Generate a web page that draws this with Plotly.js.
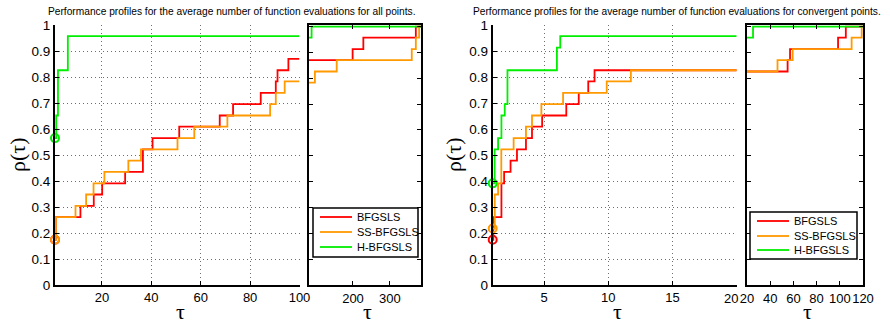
<!DOCTYPE html>
<html>
<head>
<meta charset="utf-8">
<script src="https://cdn.plot.ly/plotly-3.0.1.min.js"></script>
<style>
  html, body { margin: 0; padding: 0; background: #fff; }
  #chart { width: 890px; height: 325px; }
</style>
</head>
<body>
<div id="chart"></div>
<script>
// Solver names and colours
const solverNames = ['BFGSLS', 'SS-BFGSLS', 'H-BFGSLS'];
const solverColors = ['#ff0000', '#ff9a00', '#00ee00'];

// ---- All points: main range tau in [1, 100] ----
const allTauBfgs   = [1, 1.3, 11.3, 16.7, 20.1, 29.4, 36.6, 40.5, 51.3, 67.7, 73.1, 84.3, 90.4, 91.1, 95.5, 100];
const allRhoBfgs   = [0.174, 0.261, 0.304, 0.348, 0.391, 0.435, 0.522, 0.565, 0.609, 0.652, 0.696, 0.739, 0.783, 0.826, 0.870, 0.870];
const allTauSs     = [1, 1.3, 9.3, 13.6, 16.6, 21.0, 30.7, 35.8, 50.6, 57.4, 70.8, 88.1, 90.4, 94.0, 100];
const allRhoSs     = [0.174, 0.261, 0.304, 0.348, 0.391, 0.435, 0.478, 0.522, 0.565, 0.609, 0.652, 0.696, 0.739, 0.783, 0.783];
const allTauH      = [1, 1.5, 2.2, 6.2, 100];
const allRhoH      = [0.565, 0.652, 0.826, 0.957, 0.957];

// ---- All points: tail range ----
const allTailTauBfgs = [81, 199, 228, 370, 384];
const allTailRhoBfgs = [0.870, 0.913, 0.957, 1, 1];
const allTailTauSs   = [81, 97, 156, 359, 370, 379, 384];
const allTailRhoSs   = [0.783, 0.826, 0.870, 0.913, 0.957, 1, 1];
const allTailTauH    = [81, 88, 384];
const allTailRhoH    = [0.957, 1, 1];

// ---- Convergent points: main range tau in [1, 20] ----
const convTauBfgs = [1, 1.05, 1.68, 1.89, 2.39, 2.89, 3.59, 4.06, 4.85, 6.73, 7.70, 8.44, 8.93, 20];
const convRhoBfgs = [0.174, 0.261, 0.391, 0.435, 0.478, 0.522, 0.565, 0.609, 0.652, 0.696, 0.739, 0.783, 0.826, 0.826];
const convTauSs   = [1, 1.16, 1.42, 1.67, 2.63, 3.59, 4.06, 4.79, 6.48, 9.88, 11.76, 20];
const convRhoSs   = [0.217, 0.348, 0.391, 0.522, 0.565, 0.609, 0.652, 0.696, 0.739, 0.783, 0.826, 0.826];
const convTauH    = [1, 1.15, 1.42, 1.68, 1.94, 2.15, 6.0, 6.26, 20];
const convRhoH    = [0.391, 0.522, 0.565, 0.652, 0.696, 0.826, 0.913, 0.957, 0.957];

// ---- Convergent points: tail range tau in [20, 120] ----
const convTailTauBfgs = [20, 55, 57.1, 98.5, 105.2, 120];
const convTailRhoBfgs = [0.826, 0.870, 0.913, 0.957, 1, 1];
const convTailTauSs   = [20, 46.3, 59.4, 110.2, 118.9, 120];
const convTailRhoSs   = [0.826, 0.870, 0.913, 0.957, 1, 1];
const convTailTauH    = [20, 25.2, 120];
const convTailRhoH    = [0.957, 1, 1];

// Axis ticks
const rhoTicks = [0, 0.1, 0.2, 0.3, 0.4, 0.5, 0.6, 0.7, 0.8, 0.9, 1];
const rhoTickText = ['0', '0.1', '0.2', '0.3', '0.4', '0.5', '0.6', '0.7', '0.8', '0.9', '1'];
const allMainTicks = [20, 40, 60, 80, 100];
const allTailTicks = [200, 300];
const convMainTicks = [5, 10, 15, 20];
const convMainTickText = ['5', '10', '15', ''];   // last label is placed separately, nudged left of the panel gap
const convMainLastLabel = '20';
const convTailTicks = [20, 40, 60, 80, 100, 120];

const titleAll = 'Performance profiles for the average number of function evaluations for all points.';
const titleConv = 'Performance profiles for the average number of function evaluations for convergent points.';

const W = 890, H = 325;
const LW = 1.8;
const traces = [];

function stepTrace(x, y, i, xa, ya) {
  return {
    x: x, y: y, type: 'scatter', mode: 'lines',
    line: { shape: 'hv', color: solverColors[i], width: LW },
    name: solverNames[i], xaxis: xa, yaxis: ya,
    showlegend: false, hoverinfo: 'skip'
  };
}
function startMarker(x, y, i, xa, ya) {
  return {
    x: [x[0]], y: [y[0]], type: 'scatter', mode: 'markers',
    marker: { symbol: 'circle-open', size: 8, color: solverColors[i], line: { width: 2, color: solverColors[i] } },
    xaxis: xa, yaxis: ya, showlegend: false, hoverinfo: 'skip', cliponaxis: false
  };
}

const allMain = [[allTauBfgs, allRhoBfgs], [allTauSs, allRhoSs], [allTauH, allRhoH]];
const allTail = [[allTailTauBfgs, allTailRhoBfgs], [allTailTauSs, allTailRhoSs], [allTailTauH, allTailRhoH]];
const convMain = [[convTauBfgs, convRhoBfgs], [convTauSs, convRhoSs], [convTauH, convRhoH]];
const convTail = [[convTailTauBfgs, convTailRhoBfgs], [convTailTauSs, convTailRhoSs], [convTailTauH, convTailRhoH]];

for (let i = 0; i < 3; i++) {
  traces.push(stepTrace(allMain[i][0], allMain[i][1], i, 'x', 'y'));
  traces.push(stepTrace(allTail[i][0], allTail[i][1], i, 'x2', 'y2'));
  traces.push(stepTrace(convMain[i][0], convMain[i][1], i, 'x3', 'y3'));
  traces.push(stepTrace(convTail[i][0], convTail[i][1], i, 'x4', 'y4'));
}
for (let i = 0; i < 3; i++) {
  traces.push(startMarker(allMain[i][0], allMain[i][1], i, 'x', 'y'));
  traces.push(startMarker(convMain[i][0], convMain[i][1], i, 'x3', 'y3'));
}

const yDom = [(H - 285) / H, (H - 25) / H];
// fine dotted grid
const gridStyle = { showgrid: true, gridcolor: '#6e6e6e', griddash: '1px,3px', gridwidth: 1 };
const tickFont = { size: 13 };

function mainX(dom, range, ticks, anchor, text) {
  const ax = Object.assign({
    domain: dom, range: range, anchor: anchor, tickmode: 'array', tickvals: ticks, tickangle: 0,
    ticks: 'inside', ticklen: 4, tickcolor: '#000', showline: true, linecolor: '#000', linewidth: 1.5,
    zeroline: false, tickfont: tickFont
  }, gridStyle);
  if (text) ax.ticktext = text;
  return ax;
}
function tailX(dom, range, ticks, anchor) {
  return {
    domain: dom, range: range, anchor: anchor, tickmode: 'array', tickvals: ticks, tickangle: 0,
    ticks: 'inside', ticklen: 4, tickcolor: '#000', showline: true, mirror: 'ticks',
    linecolor: '#000', linewidth: 2, showgrid: false, zeroline: false, tickfont: tickFont
  };
}
function mainY(anchor) {
  return Object.assign({
    domain: yDom, range: [0, 1], anchor: anchor, tickmode: 'array', tickvals: rhoTicks, ticktext: rhoTickText,
    ticks: 'inside', ticklen: 4, tickcolor: '#000', showline: true, linecolor: '#000', linewidth: 2,
    zeroline: false, tickfont: { size: 13.5 }
  }, gridStyle);
}
function tailY(anchor) {
  return {
    domain: yDom, range: [0, 1.006], anchor: anchor, tickmode: 'array', tickvals: rhoTicks,
    showticklabels: false, ticks: 'inside', ticklen: 4, tickcolor: '#000',
    showline: true, mirror: 'ticks', linecolor: '#000', linewidth: 2, showgrid: false, zeroline: false
  };
}

// Pixel helpers for paper-referenced shapes and labels
const px = v => v / W;
const py = v => (H - v) / H;

// Legend boxes drawn as shapes + text: [left, top, right, bottom, row centres]
const legendBoxes = [
  { l: 313, t: 208, r: 418, b: 257, rows: [217, 232, 247] },
  { l: 750, t: 212, r: 857, b: 259, rows: [221, 236, 250] }
];

const shapes = [];
const annotations = [];
legendBoxes.forEach(bx => {
  shapes.push({ type: 'rect', xref: 'paper', yref: 'paper', x0: px(bx.l), x1: px(bx.r), y0: py(bx.b), y1: py(bx.t),
    line: { color: '#000', width: 1.5 }, fillcolor: '#fff', layer: 'above' });
  bx.rows.forEach((ry, i) => {
    shapes.push({ type: 'line', xref: 'paper', yref: 'paper', x0: px(bx.l + 7), x1: px(bx.l + 39), y0: py(ry), y1: py(ry),
      line: { color: solverColors[i], width: LW }, layer: 'above' });
    annotations.push({ text: solverNames[i], xref: 'paper', yref: 'paper', x: px(bx.l + 42), y: py(ry),
      xanchor: 'left', yanchor: 'middle', showarrow: false, font: { size: 11, color: '#000' } });
  });
});

const greek = { family: 'Liberation Serif, DejaVu Serif, serif', size: 22, color: '#000' };

annotations.push(
  { text: titleAll, x: px(232), y: py(11), xref: 'paper', yref: 'paper', showarrow: false,
    font: { size: 10.2 }, xanchor: 'center', yanchor: 'middle' },
  { text: titleConv, x: px(677), y: py(11), xref: 'paper', yref: 'paper', showarrow: false,
    font: { size: 10.2 }, xanchor: 'center', yanchor: 'middle' },
  { text: 'ρ(τ)', x: px(17), y: py(155), xref: 'paper', yref: 'paper', showarrow: false,
    textangle: -90, font: greek, xanchor: 'center', yanchor: 'middle' },
  { text: 'ρ(τ)', x: px(453), y: py(155), xref: 'paper', yref: 'paper', showarrow: false,
    textangle: -90, font: greek, xanchor: 'center', yanchor: 'middle' },
  { text: convMainLastLabel, x: 20, xref: 'x3', y: py(298), yref: 'paper', xshift: -5.5, showarrow: false,
    font: tickFont, xanchor: 'center', yanchor: 'middle' }
);
[180, 367, 617, 807].forEach(cx => {
  annotations.push({ text: 'τ', x: px(cx), y: py(311), xref: 'paper', yref: 'paper', showarrow: false,
    font: greek, xanchor: 'center', yanchor: 'middle' });
});

const layout = {
  width: W, height: H,
  margin: { l: 0, r: 0, t: 0, b: 0 },
  paper_bgcolor: '#fff', plot_bgcolor: '#fff',
  showlegend: false,
  font: { family: 'Liberation Sans, Arial, sans-serif', size: 13, color: '#000' },
  xaxis:  mainX([px(55), px(299.5)], [1, 100], allMainTicks, 'y'),
  xaxis2: tailX([px(309), px(421)], [81, 384], allTailTicks, 'y2'),
  xaxis3: mainX([px(492.7), px(736.7)], [1, 20], convMainTicks, 'y3', convMainTickText),
  xaxis4: tailX([px(747), px(863)], [20, 120], convTailTicks, 'y4'),
  yaxis:  mainY('x'),
  yaxis2: tailY('x2'),
  yaxis3: mainY('x3'),
  yaxis4: tailY('x4'),
  shapes: shapes,
  annotations: annotations
};

Plotly.newPlot('chart', traces, layout, { staticPlot: true, displayModeBar: false });
</script>
</body>
</html>
